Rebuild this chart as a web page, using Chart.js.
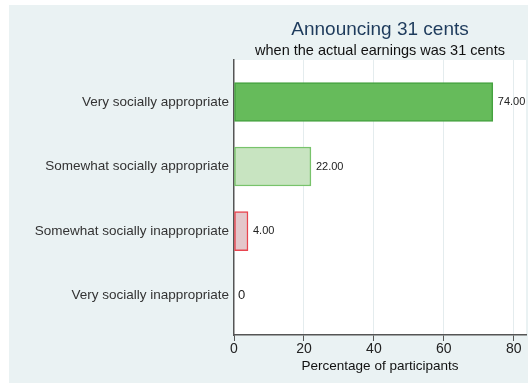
<!DOCTYPE html>
<html>
<head>
<meta charset="utf-8">
<script src="https://cdn.jsdelivr.net/npm/chart.js@4"></script>
<style>
html,body{margin:0;padding:0;background:#fff;}
#wrap{width:528px;height:383px;}
</style>
</head>
<body>
<div id="wrap"><canvas id="c" width="528" height="383"></canvas></div>
<script>
const categories = ["Very socially appropriate","Somewhat socially appropriate","Somewhat socially inappropriate","Very socially inappropriate"];
const values = [74, 22, 4, 0];
const xTicks = [0, 20, 40, 60, 80];
const titleText = "Announcing 31 cents";
const subtitleText = "when the actual earnings was 31 cents";
const xTitle = "Percentage of participants";

const fills = ["#66BB5B", "#C8E4C1", "#E4C7CB", "rgba(0,0,0,0)"];
const borders = ["#45A23F", "#78C36B", "#E8444F", "rgba(0,0,0,0)"];
const FONT = "'Liberation Sans', Arial, sans-serif";

const bgPlugin = {
  id: 'bg',
  beforeDraw(chart) {
    const {ctx, chartArea: a} = chart;
    ctx.save();
    ctx.fillStyle = '#fff';
    ctx.fillRect(0, 0, chart.width, chart.height);
    ctx.fillStyle = '#EAF2F3';
    ctx.fillRect(9, 5, chart.width - 9, chart.height - 5);
    ctx.fillStyle = '#fff';
    ctx.fillRect(a.left, a.top, a.right - a.left, a.bottom - a.top);
    ctx.restore();
  },
  afterDraw(chart) {
    const {ctx, chartArea: a} = chart;
    const cx = (a.left + a.right) / 2;
    ctx.save();
    ctx.textAlign = 'center';
    ctx.textBaseline = 'middle';
    ctx.fillStyle = '#1E3B5C';
    ctx.font = "19px " + FONT;
    ctx.fillText(titleText, cx, 30);
    ctx.fillStyle = '#111';
    ctx.font = "14.5px " + FONT;
    ctx.fillText(subtitleText, cx, 51);
    ctx.restore();
  },
  afterDatasetsDraw(chart) {
    const {ctx} = chart;
    const meta = chart.getDatasetMeta(0);
    ctx.save();
    ctx.textBaseline = 'middle';
    ctx.textAlign = 'left';
    ctx.fillStyle = '#222';
    meta.data.forEach((bar, i) => {
      const v = values[i];
      if (v > 0) {
        ctx.font = "11px " + FONT;
        ctx.fillText(v.toFixed(2), bar.x + 5, bar.y);
      } else {
        ctx.font = "13px " + FONT;
        ctx.fillText('0', bar.x + 4, bar.y);
      }
    });
    ctx.restore();
  }
};

new Chart(document.getElementById('c'), {
  type: 'bar',
  data: {
    datasets: [{
      data: values.map((v, i) => ({x: v, y: i + 1})),
      backgroundColor: fills,
      borderColor: borders,
      borderWidth: 1.5,
      borderSkipped: false,
      barThickness: 39
    }]
  },
  options: {
    indexAxis: 'y',
    responsive: false,
    animation: false,
    devicePixelRatio: 1,
    layout: {padding: {top: 60, right: 2, bottom: 9, left: 0}},
    plugins: {legend: {display: false}, tooltip: {enabled: false}, title: {display: false}},
    scales: {
      x: {
        type: 'linear',
        min: 0,
        max: 83.5,
        offset: false,
        afterBuildTicks(scale) { scale.ticks = xTicks.map(v => ({value: v})); },
        grid: {
          color: ctx => (ctx.tick && ctx.tick.value === 0) ? 'rgba(0,0,0,0)' : '#E4ECEE',
          tickColor: '#555',
          tickLength: 6,
          lineWidth: 1
        },
        border: {display: true, color: '#555', width: 1.5},
        ticks: {color: '#222', font: {family: FONT, size: 14}, padding: 0, maxRotation: 0},
        title: {display: true, text: xTitle, color: '#111', font: {family: FONT, size: 13.5}, padding: {top: 0, bottom: 0}}
      },
      y: {
        type: 'linear',
        reverse: true,
        min: 0.35,
        max: 4.61,
        offset: false,
        grace: 0,
        afterDataLimits(scale) { scale.min = 0.35; scale.max = 4.61; },
        afterBuildTicks(scale) { scale.ticks = categories.map((c, i) => ({value: i + 1})); },
        afterFit(scale) { scale.width = 234; },
        grid: {display: false, drawTicks: false, offset: false},
        border: {display: true, color: '#555', width: 1.5},
        ticks: {
          color: '#333',
          font: {family: FONT, size: 13.5},
          padding: 5,
          callback: v => categories[Math.round(v) - 1]
        }
      }
    }
  },
  plugins: [bgPlugin]
});
</script>
</body>
</html>
